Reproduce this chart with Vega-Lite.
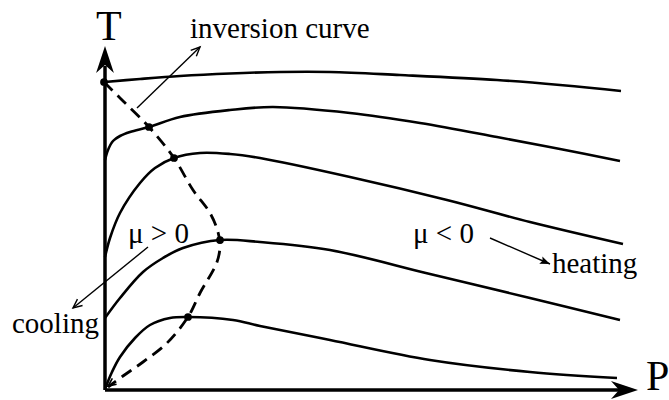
{
  "$schema": "https://vega.github.io/schema/vega-lite/v6.json",
  "width": 669,
  "height": 400,
  "padding": 0,
  "autosize": {"type": "none"},
  "background": "white",
  "config": {"view": {"stroke": null}},
  "datasets": {
    "isenthalps": [
      {"curve": "h1", "P": 0.0, "T": 30.8}, {"curve": "h1", "P": 3.5, "T": 31.1}, {"curve": "h1", "P": 7.5, "T": 31.4}, {"curve": "h1", "P": 12.5, "T": 31.65}, {"curve": "h1", "P": 17.5, "T": 31.8}, {"curve": "h1", "P": 22.5, "T": 31.8}, {"curve": "h1", "P": 29.5, "T": 31.5}, {"curve": "h1", "P": 39.2, "T": 31.0}, {"curve": "h1", "P": 45.5, "T": 30.5}, {"curve": "h1", "P": 51.6, "T": 29.9},
      {"curve": "h2", "P": 0.0, "T": 23.0}, {"curve": "h2", "P": 0.3, "T": 24.0}, {"curve": "h2", "P": 0.8, "T": 24.9}, {"curve": "h2", "P": 1.5, "T": 25.4}, {"curve": "h2", "P": 2.5, "T": 25.8}, {"curve": "h2", "P": 4.4, "T": 26.3}, {"curve": "h2", "P": 7.5, "T": 27.3}, {"curve": "h2", "P": 12.5, "T": 28.0}, {"curve": "h2", "P": 16.8, "T": 28.3}, {"curve": "h2", "P": 24.5, "T": 27.7}, {"curve": "h2", "P": 31.5, "T": 26.7}, {"curve": "h2", "P": 39.2, "T": 25.3}, {"curve": "h2", "P": 45.5, "T": 24.1}, {"curve": "h2", "P": 51.5, "T": 22.9},
      {"curve": "h3", "P": 0.0, "T": 13.3}, {"curve": "h3", "P": 0.5, "T": 15.2}, {"curve": "h3", "P": 1.5, "T": 17.7}, {"curve": "h3", "P": 3.5, "T": 20.7}, {"curve": "h3", "P": 5.0, "T": 22.2}, {"curve": "h3", "P": 6.9, "T": 23.2}, {"curve": "h3", "P": 9.5, "T": 23.7}, {"curve": "h3", "P": 12.5, "T": 23.6}, {"curve": "h3", "P": 15.5, "T": 23.2}, {"curve": "h3", "P": 24.5, "T": 21.3}, {"curve": "h3", "P": 34.2, "T": 19.0}, {"curve": "h3", "P": 42.5, "T": 16.8}, {"curve": "h3", "P": 51.8, "T": 14.6},
      {"curve": "h4", "P": 0.0, "T": 7.2}, {"curve": "h4", "P": 1.5, "T": 9.2}, {"curve": "h4", "P": 3.8, "T": 11.8}, {"curve": "h4", "P": 5.8, "T": 13.2}, {"curve": "h4", "P": 7.8, "T": 14.2}, {"curve": "h4", "P": 11.5, "T": 15.0}, {"curve": "h4", "P": 15.5, "T": 14.8}, {"curve": "h4", "P": 22.5, "T": 14.0}, {"curve": "h4", "P": 32.5, "T": 11.6}, {"curve": "h4", "P": 42.5, "T": 9.2}, {"curve": "h4", "P": 51.5, "T": 7.0},
      {"curve": "h5", "P": 0.0, "T": 0.1}, {"curve": "h5", "P": 0.7, "T": 1.8}, {"curve": "h5", "P": 1.5, "T": 3.3}, {"curve": "h5", "P": 3.0, "T": 5.2}, {"curve": "h5", "P": 4.5, "T": 6.5}, {"curve": "h5", "P": 6.5, "T": 7.2}, {"curve": "h5", "P": 8.3, "T": 7.3}, {"curve": "h5", "P": 12.8, "T": 7.0}, {"curve": "h5", "P": 15.5, "T": 6.4}, {"curve": "h5", "P": 22.5, "T": 5.0}, {"curve": "h5", "P": 32.5, "T": 3.0}, {"curve": "h5", "P": 42.5, "T": 1.8}, {"curve": "h5", "P": 51.2, "T": 1.2}
    ],
    "inversion": [
      {"k": 1, "P": -0.1, "T": 30.8}, {"k": 2, "P": 1.5, "T": 29.2}, {"k": 3, "P": 4.4, "T": 26.3}, {"k": 4, "P": 6.9, "T": 23.2}, {"k": 5, "P": 8.8, "T": 20.0}, {"k": 6, "P": 10.5, "T": 17.7}, {"k": 7, "P": 11.3, "T": 15.8}, {"k": 8, "P": 11.5, "T": 14.5}, {"k": 9, "P": 11.2, "T": 12.8}, {"k": 10, "P": 9.5, "T": 9.7}, {"k": 11, "P": 8.3, "T": 7.3}, {"k": 12, "P": 6.2, "T": 4.7}, {"k": 13, "P": 3.8, "T": 2.8}, {"k": 14, "P": 1.8, "T": 1.4}, {"k": 15, "P": 0.3, "T": 0.3}
    ],
    "maxima": [
      {"P": -0.1, "T": 30.8}, {"P": 4.4, "T": 26.3}, {"P": 6.9, "T": 23.2}, {"P": 11.5, "T": 15.0}, {"P": 8.3, "T": 7.3}
    ],
    "axes": [
      {"P": 0, "T": 0, "P2": 0, "T2": 32.4},
      {"P": 0, "T": 0, "P2": 51.5, "T2": 0}
    ],
    "pointers": [
      {"name": "inversion", "P": 3.2, "T": 28.2, "P2": 9.5, "T2": 34.3},
      {"name": "cooling", "P": 4.3, "T": 14.3, "P2": -3.2, "T2": 8.2},
      {"name": "heating", "P": 38.5, "T": 15.2, "P2": 44.5, "T2": 12.6}
    ],
    "axisNames": [
      {"label": "T", "P": -0.9, "T": 35.0},
      {"label": "P", "P": 54.1, "T": 0.0}
    ],
    "notes": [
      {"label": "inversion curve", "P": 8.5, "T": 35.2},
      {"label": "μ > 0", "P": 2.3, "T": 14.7},
      {"label": "μ < 0", "P": 30.8, "T": 14.7},
      {"label": "cooling", "P": -9.3, "T": 5.7},
      {"label": "heating", "P": 44.7, "T": 11.7}
    ]
  },
  "encoding": {
    "x": {"field": "P", "type": "quantitative", "scale": {"domain": [-10.5, 56.4], "nice": false, "zero": false}, "axis": null},
    "y": {"field": "T", "type": "quantitative", "scale": {"domain": [-1.0, 39.0], "nice": false, "zero": false}, "axis": null}
  },
  "layer": [
    {
      "data": {"name": "axes"},
      "mark": {"type": "rule", "color": "#000", "strokeWidth": 3.5},
      "encoding": {"x2": {"field": "P2"}, "y2": {"field": "T2"}}
    },
    {
      "data": {"values": [{"P": 0, "T": 34.4}]},
      "mark": {"type": "point", "shape": "M0,0 L0.33,1 L0,0.7 L-0.33,1 Z", "filled": true, "color": "#000", "opacity": 1, "size": 2916, "angle": 0}
    },
    {
      "data": {"values": [{"P": 53.3, "T": 0}]},
      "mark": {"type": "point", "shape": "M0,0 L0.33,1 L0,0.7 L-0.33,1 Z", "filled": true, "color": "#000", "opacity": 1, "size": 2916, "angle": 90}
    },
    {
      "data": {"name": "isenthalps"},
      "mark": {"type": "line", "color": "#000", "strokeWidth": 2.6, "interpolate": "catmull-rom"},
      "encoding": {"detail": {"field": "curve"}}
    },
    {
      "data": {"name": "inversion"},
      "mark": {"type": "line", "color": "#000", "strokeWidth": 2.8, "strokeDash": [12, 7], "interpolate": "catmull-rom"},
      "encoding": {"order": {"field": "k", "type": "quantitative"}}
    },
    {
      "data": {"name": "maxima"},
      "mark": {"type": "point", "shape": "circle", "filled": true, "color": "#000", "opacity": 1, "size": 60}
    },
    {
      "data": {"name": "pointers"},
      "mark": {"type": "rule", "color": "#000", "strokeWidth": 1.4},
      "encoding": {"x2": {"field": "P2"}, "y2": {"field": "T2"}}
    },
    {
      "data": {"values": [{"P": 9.5, "T": 34.3}]},
      "mark": {"type": "point", "shape": "M-0.45,1 L0,0 L0.45,1", "filled": false, "color": "#000", "opacity": 1, "strokeWidth": 1.4, "size": 324, "angle": 46}
    },
    {
      "data": {"values": [{"P": -3.2, "T": 8.2}]},
      "mark": {"type": "point", "shape": "M-0.45,1 L0,0 L0.45,1", "filled": false, "color": "#000", "opacity": 1, "strokeWidth": 1.4, "size": 324, "angle": 231}
    },
    {
      "data": {"values": [{"P": 44.5, "T": 12.6}]},
      "mark": {"type": "point", "shape": "M0,0 L0.4,1 L0,0.8 L-0.4,1 Z", "filled": true, "color": "#000", "opacity": 1, "size": 400, "angle": 113}
    },
    {
      "data": {"values": [{"P": 0.3, "T": 0.4}]},
      "mark": {"type": "point", "shape": "M-0.45,1 L0,0 L0.45,1", "filled": false, "color": "#000", "opacity": 1, "strokeWidth": 1.6, "size": 256, "angle": 234}
    },
    {
      "data": {"name": "axisNames"},
      "mark": {"type": "text", "font": "Liberation Serif", "fontSize": 42, "align": "left", "baseline": "alphabetic", "color": "#000"},
      "encoding": {"text": {"field": "label"}}
    },
    {
      "data": {"name": "notes"},
      "mark": {"type": "text", "font": "Liberation Serif", "fontSize": 29, "align": "left", "baseline": "alphabetic", "color": "#000"},
      "encoding": {"text": {"field": "label"}}
    }
  ]
}
